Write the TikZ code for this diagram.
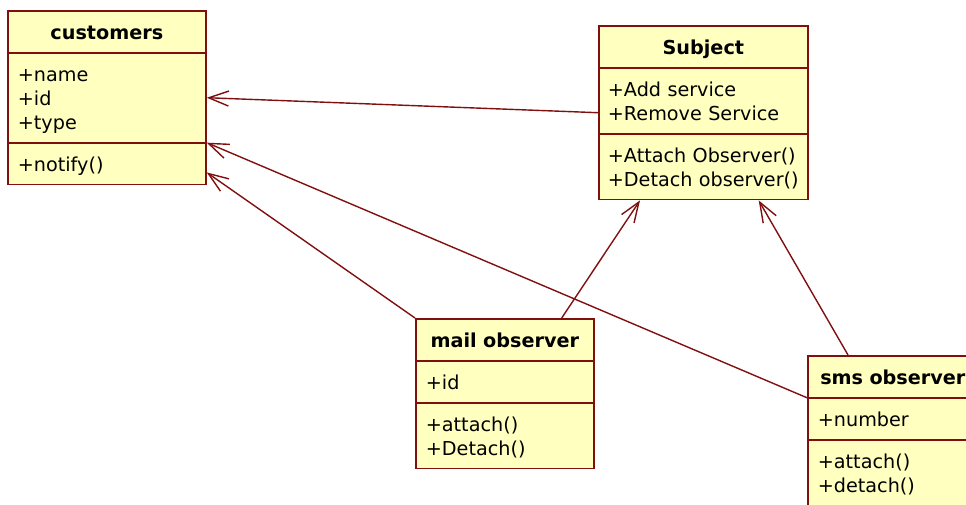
\documentclass[tikz,border=0pt]{standalone}
\usepackage{fontspec}
\setmainfont{DejaVu Sans}
\usetikzlibrary{shapes.multipart, arrows.meta}
\definecolor{umlred}{RGB}{128,16,16}
\definecolor{umlfill}{RGB}{255,255,192}
% one line of a class box (no breaking, fixed height)
\newcommand{\umlrow}[1]{\mbox{\rule[-4.5pt]{0pt}{24pt}#1}}
\tikzstyle{umlclass} = [
  rectangle split, rectangle split parts=3,
  draw=umlred, fill=umlfill, line width=1.7pt,
  inner xsep=10pt, inner ysep=8.1pt,
  align=left, anchor=north west
]
\tikzset{
  arrow/.style={
    draw=umlred, line width=1.4pt,
    -{Straight Barb[length=20pt,width=15pt]}
  }
}
\begin{document}
\begin{tikzpicture}[
  x=1pt, y=-1pt,
  font=\fontsize{19.2}{24}\selectfont
]
\useasboundingbox (0,0) rectangle (966,504);
\clip (0,0) rectangle (966,504);

% ------------------------------------------------
% CLASES
% ------------------------------------------------

% customers (arriba izquierda)
\node[umlclass, text width=178pt] (customers) at (7,10) {%
  \centerline{\umlrow{\textbf{customers}}}
  \nodepart{second}\umlrow{+name}\\\umlrow{+id}\\\umlrow{+type}
  \nodepart{third}\umlrow{+notify()}
};

% Subject (arriba derecha)
\node[umlclass, text width=191pt, inner xsep=9pt] (subject) at (598,25) {%
  \centerline{\umlrow{\textbf{Subject}}}
  \nodepart{second}\umlrow{+Add service}\\\umlrow{+Remove Service}
  \nodepart{third}\umlrow{+Attach Observer()}\\\umlrow{+Detach observer()}
};

% mail observer (abajo centro)
\node[umlclass, text width=158pt] (mail) at (415,318) {%
  \centerline{\umlrow{\textbf{mail observer}}}
  \nodepart{second}\umlrow{+id}
  \nodepart{third}\umlrow{+attach()}\\\umlrow{+Detach()}
};

% sms observer (abajo derecha, cortada por el borde)
\node[umlclass, text width=150pt] (sms) at (807,355) {%
  \centerline{\umlrow{\textbf{sms observer}}}
  \nodepart{second}\umlrow{+number}
  \nodepart{third}\umlrow{+attach()}\\\umlrow{+detach()}
};

% ------------------------------------------------
% FLECHAS
% ------------------------------------------------

% hacia customers
\draw[arrow] (subject.west) -- (customers.east);
\draw[arrow] (sms.text split west) -- (customers.second split east);
\draw[arrow] (mail.north west) -- ([yshift=13pt]customers.south east);

% hacia Subject
\draw[arrow] ([xshift=-33pt]mail.north east) -- ([xshift=42pt]subject.south west);
\draw[arrow] ([xshift=41pt]sms.north west) -- ([xshift=-50pt]subject.south east);

\end{tikzpicture}
\end{document}
